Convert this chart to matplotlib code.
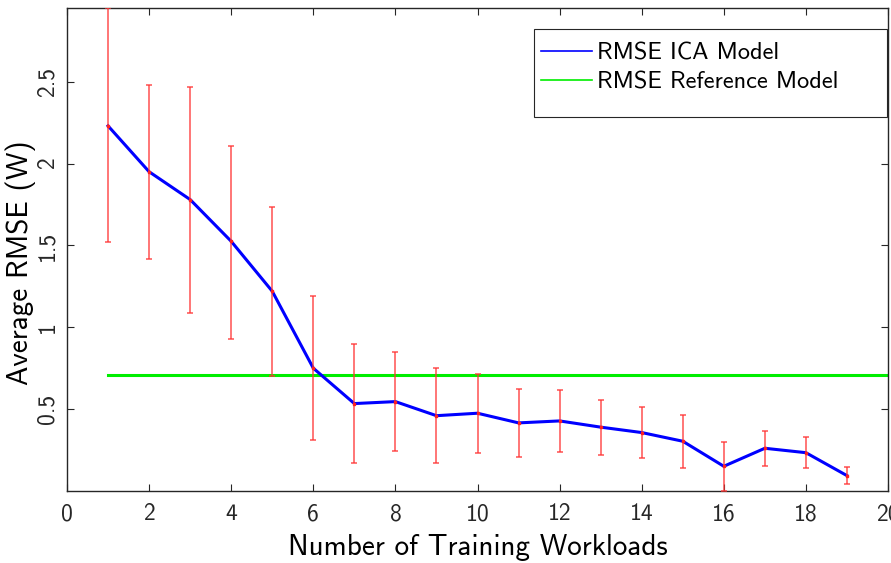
import numpy as np
import matplotlib
matplotlib.use('Agg')
from matplotlib import pyplot as plt
from matplotlib.patches import Rectangle

# values
workloads = list(range(1, 20))
rmse_ica = [2.23, 1.95, 1.78, 1.525, 1.22, 0.75, 0.534, 0.546, 0.46, 0.475,
            0.416, 0.428, 0.39, 0.357, 0.304, 0.151, 0.261, 0.234, 0.094]
err_upper = [2.95, 2.48, 2.47, 2.11, 1.735, 1.19, 0.897, 0.85, 0.75, 0.717,
             0.626, 0.616, 0.555, 0.51, 0.467, 0.30, 0.367, 0.332, 0.147]
err_lower = [1.52, 1.42, 1.09, 0.93, 0.70, 0.31, 0.173, 0.243, 0.17, 0.234,
             0.206, 0.239, 0.222, 0.20, 0.143, 0.0, 0.155, 0.139, 0.041]
ref_x = [1, 20]
ref_rmse = [0.71, 0.71]
xticks = list(range(0, 21, 2))
yticks = [0.5, 1, 1.5, 2, 2.5]
ytick_labels = ['0.5', '1', '1.5', '2', '2.5']

plt.rcParams['font.family'] = ['cmss10', 'DejaVu Sans']
plt.rcParams['axes.unicode_minus'] = False

fig = plt.figure(figsize=(8.91, 5.63), dpi=100)
ax = fig.add_axes([67 / 891, 72 / 563, 821 / 891, 483 / 563])

mean = np.array(rmse_ica)
yerr = np.vstack([mean - np.array(err_lower), np.array(err_upper) - mean])

ax.plot(workloads, rmse_ica, color='#0000ff', lw=2.2, label='RMSE ICA Model', zorder=3)
ax.plot(ref_x, ref_rmse, color='#00ee00', lw=2.2, label='RMSE Reference Model', zorder=2)
ax.errorbar(workloads, rmse_ica, yerr=yerr, fmt='none', ecolor='#ff3333',
            elinewidth=1.1, capsize=2.5, capthick=1.1, alpha=0.85, zorder=4)
ax.plot(workloads, rmse_ica, ls='none', marker='s', ms=2, color='#ff2020', zorder=5)

ax.set_xlim(0, 20)
ax.set_ylim(0, 2.95)
ax.set_xticks(xticks)
ax.set_yticks(yticks)
ax.set_yticklabels(ytick_labels, rotation=90, va='center')
ax.tick_params(direction='in', top=True, right=True, length=5, width=0.8,
               labelsize=17, colors='#262626')
ax.tick_params(axis='x', pad=9)
ax.tick_params(axis='y', pad=6)
for s in ax.spines.values():
    s.set_color('#262626')
    s.set_linewidth(1.0)

ax.set_xlabel('Number of Training Workloads', fontsize=21, labelpad=6)
ax.set_ylabel('Average RMSE (W)', fontsize=21)
ax.yaxis.set_label_coords(-0.038, 0.472)

# MATLAB-like legend box: wider on the right and bottom than matplotlib's
ax.add_patch(Rectangle((0.5688, 0.7743), 0.43, 0.1822, transform=ax.transAxes,
                       facecolor='white', edgecolor='#262626', lw=0.8, zorder=6))
leg = ax.legend(loc='center left', bbox_to_anchor=(0.5773, 0.8758),
                borderaxespad=0, borderpad=0, frameon=False, fontsize=17.5,
                handlelength=2.1, handletextpad=0.2, labelspacing=0.32)
leg.set_zorder(7)
for h in leg.get_lines():
    h.set_linewidth(1.2)

fig.savefig('out.png', dpi=100)
